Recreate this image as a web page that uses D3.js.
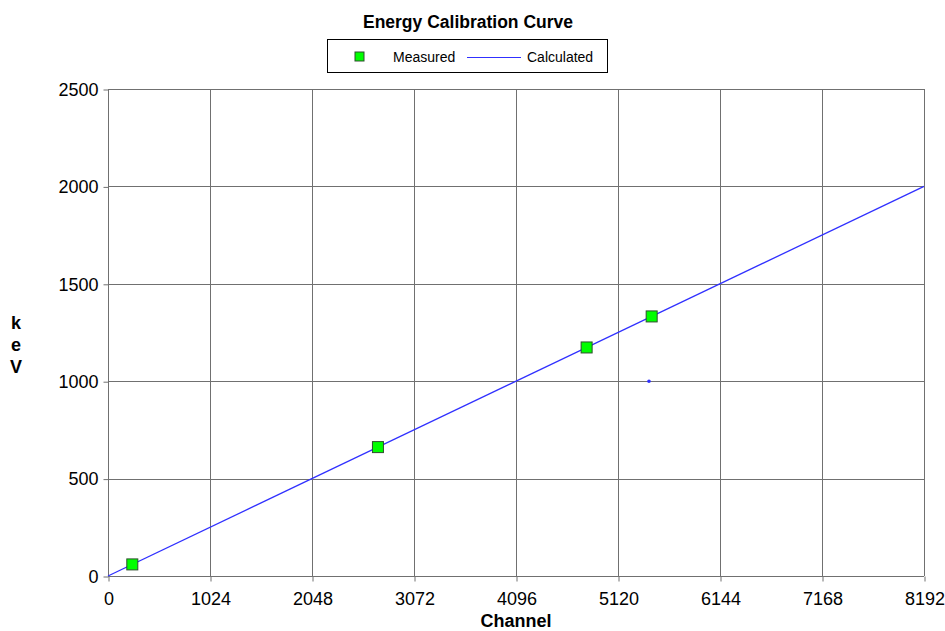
<!DOCTYPE html>
<html><head><meta charset="utf-8">
<script src="https://cdn.jsdelivr.net/npm/d3@7"></script>
<style>body{margin:0;background:#fff}svg{display:block}text{font-family:Arial,"Liberation Sans",sans-serif}</style>
</head><body>
<script>
const xTicks = [0,1024,2048,3072,4096,5120,6144,7168,8192];
const yTicks = [0,500,1000,1500,2000,2500];
const measuredChannel = [244, 2710, 4805, 5458];
const measuredKeV = [59.5, 661.7, 1173.2, 1332.5];
const calcChannel = [0, 8192];
const calcKeV = [0, 2000];
const strayChannel = [5431];
const strayKeV = [1000];

const W=945,H=631;
const m={l:108,r:21,t:89,b:55};
const svg=d3.select("body").append("svg").attr("width",W).attr("height",H);
const x=d3.scaleLinear().domain([0,8192]).range([m.l,W-m.r]);
const y=d3.scaleLinear().domain([0,2500]).range([H-m.b,m.t]);
const FF="Arial,'Liberation Sans',sans-serif";

// grid
svg.append("g").selectAll("line").data(xTicks).join("line")
  .attr("x1",d=>x(d)+0.5).attr("x2",d=>x(d)+0.5).attr("y1",y(2500)).attr("y2",y(0))
  .attr("stroke","#707070").attr("stroke-width",1);
svg.append("g").selectAll("line").data(yTicks).join("line")
  .attr("y1",d=>Math.round(y(d))+0.5).attr("y2",d=>Math.round(y(d))+0.5).attr("x1",x(0)).attr("x2",x(8192))
  .attr("stroke","#707070").attr("stroke-width",1);

const xAxis=svg.append("g").attr("transform",`translate(0.5,${Math.round(y(0))+0.5})`)
  .call(d3.axisBottom(x).tickValues(xTicks).tickFormat(d3.format("d")).tickSize(5).tickPadding(11));
const yAxis=svg.append("g").attr("transform",`translate(${x(0)+0.5},0.5)`)
  .call(d3.axisLeft(y).tickValues(yTicks).tickFormat(d3.format("d")).tickSize(5).tickPadding(5));
[xAxis,yAxis].forEach(a=>{a.select(".domain").remove();a.selectAll("line").attr("stroke","#707070");
  a.attr("font-size",18).attr("font-family",FF);
  a.selectAll("text").attr("fill","#000");});

// calculated line
svg.append("path").datum(calcChannel.map((c,i)=>[c,calcKeV[i]]))
  .attr("d",d3.line().x(d=>x(d[0])).y(d=>y(d[1])))
  .attr("fill","none").attr("stroke","#3030ff").attr("stroke-width",1.3);
svg.selectAll(".stray").data(strayChannel).join("circle")
  .attr("cx",d=>x(d)).attr("cy",(d,i)=>y(strayKeV[i])).attr("r",1.8).attr("fill","#3030ff");

// measured
svg.selectAll(".m").data(measuredChannel).join("rect")
  .attr("x",d=>x(d)-5.5).attr("y",(d,i)=>y(measuredKeV[i])-5.5).attr("width",11).attr("height",11)
  .attr("fill","#00ff00").attr("stroke","#2f4f2f").attr("stroke-width",1);

// title
svg.append("text").attr("x",468).attr("y",28).attr("text-anchor","middle")
  .attr("font-size",17.5).attr("font-weight","bold").text("Energy Calibration Curve");
// legend
const lg=svg.append("g");
lg.append("rect").attr("x",327.5).attr("y",39.5).attr("width",280).attr("height",33)
  .attr("fill","#fff").attr("stroke","#000");
lg.append("rect").attr("x",355).attr("y",52).attr("width",9).attr("height",9)
  .attr("fill","#00ff00").attr("stroke","#2f4f2f");
lg.append("text").attr("x",393).attr("y",62).attr("font-size",14).text("Measured");
lg.append("line").attr("x1",467).attr("x2",521).attr("y1",57.5).attr("y2",57.5)
  .attr("stroke","#3030ff").attr("stroke-width",1.2);
lg.append("text").attr("x",527).attr("y",62).attr("font-size",14).text("Calculated");

// axis labels
svg.append("text").attr("x",516).attr("y",627).attr("text-anchor","middle")
  .attr("font-size",18).attr("font-weight","bold").text("Channel");
["k","e","V"].forEach((c,i)=>svg.append("text").attr("x",16).attr("y",329+i*22)
  .attr("text-anchor","middle").attr("font-size",18).attr("font-weight","bold").text(c));
</script>
</body></html>
